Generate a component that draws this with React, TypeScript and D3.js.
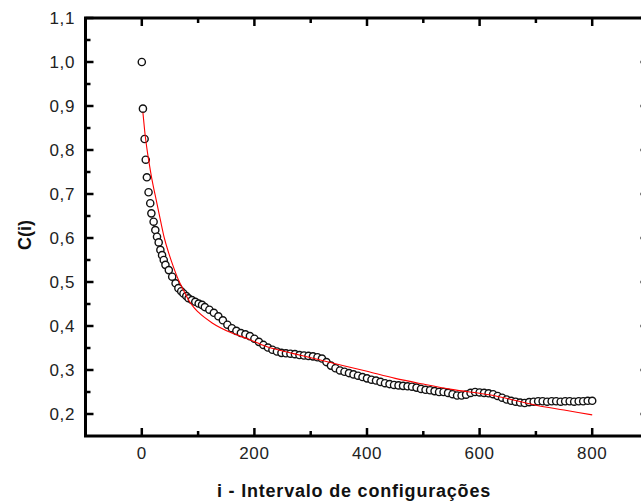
import React from "react";
import * as d3 from "d3";

const W = 641;
const H = 504;

// Measured data points C(i)
const iValues = [
  0, 2, 5, 7, 9, 12, 15, 17, 21, 24, 27, 30, 33, 36, 39, 42, 48, 54, 60, 65, 70, 74, 79, 83, 89, 95, 101, 107,
  112, 120, 128, 136, 144, 152, 160, 168, 176, 184, 192, 200, 208, 216, 224, 232, 240, 248, 256, 264, 272, 280,
  288, 296, 304, 312, 320, 328, 336, 344, 352, 360, 368, 376, 384, 392, 400, 408, 416, 424, 432, 440, 448, 456,
  464, 472, 480, 488, 496, 504, 512, 520, 528, 536, 544, 552, 560, 568, 576, 584, 592, 600, 608, 616, 624, 632,
  640, 648, 656, 664, 672, 680, 688, 696, 704, 712, 720, 728, 736, 744, 752, 760, 768, 776, 784, 792, 800,
];
const cValues = [
  1.0, 0.894, 0.825, 0.778, 0.738, 0.704, 0.679, 0.656, 0.637, 0.618, 0.603, 0.59, 0.573, 0.561, 0.55, 0.539,
  0.527, 0.512, 0.497, 0.486, 0.479, 0.474, 0.468, 0.463, 0.459, 0.455, 0.451, 0.448,
  0.443, 0.437, 0.43, 0.422, 0.413, 0.403, 0.395, 0.389, 0.384, 0.381, 0.377, 0.371, 0.364, 0.357, 0.351, 0.346,
  0.342, 0.339, 0.338, 0.337, 0.336, 0.334, 0.333, 0.332, 0.331, 0.329, 0.326, 0.318, 0.31, 0.304, 0.299, 0.296,
  0.293, 0.29, 0.287, 0.284, 0.281, 0.278, 0.276, 0.273, 0.27, 0.268, 0.266, 0.265, 0.264, 0.263, 0.262, 0.26,
  0.257, 0.255, 0.254, 0.252, 0.25, 0.25, 0.248, 0.245, 0.242, 0.242, 0.244, 0.248, 0.25, 0.249, 0.248, 0.247,
  0.245, 0.241, 0.237, 0.233, 0.23, 0.228, 0.226, 0.225, 0.227, 0.228, 0.229, 0.229, 0.228, 0.229, 0.229, 0.228,
  0.229, 0.229, 0.228, 0.229, 0.229, 0.23, 0.23,
];

// Fitted curve (red)
const fitI = [2, 5, 10, 15, 20, 25, 33, 40, 48, 56, 65, 75, 83, 92, 100, 125, 160, 190, 220, 250, 280, 335, 400, 450, 500, 550, 620, 700, 750, 800];
const fitC = [0.885, 0.845, 0.795, 0.755, 0.72, 0.69, 0.641, 0.6, 0.565, 0.535, 0.505, 0.479, 0.459, 0.443, 0.432, 0.407, 0.384, 0.37, 0.354, 0.343, 0.334, 0.317, 0.297, 0.281, 0.268, 0.256, 0.243, 0.22, 0.209, 0.198];

const xMajorTicks = [0, 200, 400, 600, 800];
const xMinorTicks = [-100, 100, 300, 500, 700];
const yMajorTicks = [0.2, 0.3, 0.4, 0.5, 0.6, 0.7, 0.8, 0.9, 1.0, 1.1];
const yMinorTicks = [0.25, 0.35, 0.45, 0.55, 0.65, 0.75, 0.85, 0.95, 1.05];

const xLabel = "i - Intervalo de configurações";
const yLabel = "C(i)";

export default function App() {
  const x = d3.scaleLinear().domain([-100, 900]).range([85.5, 648.5]);
  const y = d3.scaleLinear().domain([0.15, 1.1]).range([436, 18]);
  const left = x(-100);
  const right = x(900);
  const top = y(1.1);
  const bottom = y(0.15);

  const pts = iValues.map((v, k) => [v, cValues[k]] as [number, number]);
  const fit = fitI.map((v, k) => [v, fitC[k]] as [number, number]);
  const line = d3
    .line<[number, number]>()
    .x((d) => x(d[0]))
    .y((d) => y(d[1]))
    .curve(d3.curveMonotoneX);

  const fmt = (v: number) => v.toFixed(1).replace(".", ",");
  const font = "'Liberation Sans', Arial, sans-serif";
  const MAJ = 8;
  const MIN = 5;

  return (
    <svg
      width={W}
      height={H}
      style={{ position: "absolute", left: 0, top: 0, background: "#fff" }}
    >
      <rect x={0} y={0} width={W} height={H} fill="#fff" />
      {/* data */}
      <g>
        {pts.map((d, k) => (
          <circle
            key={k}
            cx={x(d[0])}
            cy={y(d[1])}
            r={3.6}
            fill="#fff"
            stroke="#111"
            strokeWidth={1.4}
          />
        ))}
      </g>
      <path d={line(fit) || ""} fill="none" stroke="#ff0000" strokeWidth={1.1} />

      {/* ticks */}
      <g stroke="#000" strokeWidth={2.5}>
        {xMajorTicks.map((t) => (
          <g key={"xm" + t}>
            <line x1={x(t)} x2={x(t)} y1={bottom} y2={bottom - MAJ} />
            <line x1={x(t)} x2={x(t)} y1={top} y2={top + MAJ} />
          </g>
        ))}
        {xMinorTicks.map((t) => (
          <g key={"xn" + t}>
            <line x1={x(t)} x2={x(t)} y1={bottom} y2={bottom - MIN} />
            <line x1={x(t)} x2={x(t)} y1={top} y2={top + MIN} />
          </g>
        ))}
        {yMajorTicks.map((t) => (
          <g key={"ym" + t}>
            <line x1={left} x2={left + MAJ} y1={y(t)} y2={y(t)} />
            <line x1={right} x2={right - MAJ} y1={y(t)} y2={y(t)} />
          </g>
        ))}
        {yMinorTicks.map((t) => (
          <g key={"yn" + t}>
            <line x1={left} x2={left + MIN} y1={y(t)} y2={y(t)} />
            <line x1={right} x2={right - MIN} y1={y(t)} y2={y(t)} />
          </g>
        ))}
      </g>
      {/* frame */}
      <rect
        x={left}
        y={top}
        width={right - left}
        height={bottom - top}
        fill="none"
        stroke="#000"
        strokeWidth={3}
      />

      {/* tick labels */}
      <g fontFamily={font} fontSize={17} fill="#222" letterSpacing={0.6}>
        {xMajorTicks.map((t) => (
          <text key={"xl" + t} x={x(t)} y={458.5} textAnchor="middle">
            {String(t)}
          </text>
        ))}
        {yMajorTicks.map((t) => (
          <text key={"yl" + t} x={75} y={y(t) + 6} textAnchor="end">
            {fmt(t)}
          </text>
        ))}
      </g>

      {/* axis titles */}
      <text
        x={354}
        y={497}
        textAnchor="middle"
        fontFamily={font}
        fontWeight="bold"
        fontSize={18}
        letterSpacing={0.8}
        fill="#111"
      >
        {xLabel}
      </text>
      <text
        transform={`translate(31, ${235}) rotate(-90)`}
        textAnchor="middle"
        fontFamily={font}
        fontWeight="bold"
        fontSize={18}
        fill="#111"
      >
        {yLabel}
      </text>
    </svg>
  );
}
